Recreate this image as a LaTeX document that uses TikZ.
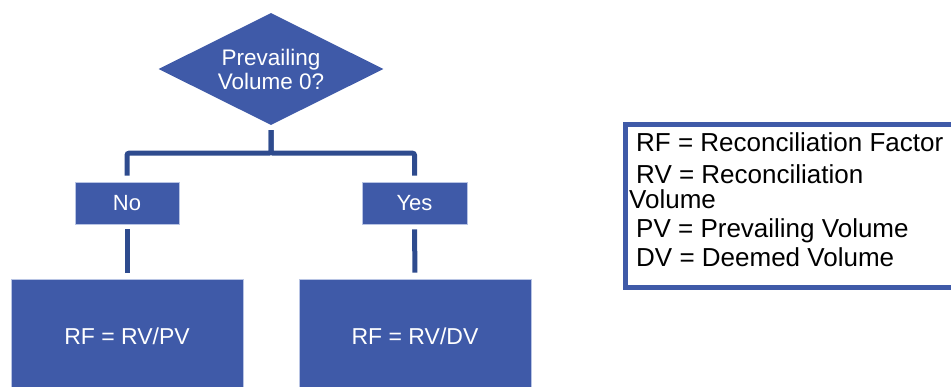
\documentclass[tikz,border=0pt]{standalone}
\usepackage{fontspec}
\setmainfont{Liberation Sans}
\usetikzlibrary{shapes.geometric}
\definecolor{boxblue}{HTML}{3F5AA8}
\definecolor{linkblue}{HTML}{2E4B8E}
\definecolor{edgeblue}{HTML}{B8C4E4}
\tikzset{
  flowbox/.style={draw=edgeblue, line width=0.8pt, fill=boxblue, text=white, inner sep=0pt, font=\fontsize{22}{26}\selectfont},
  decision/.style={diamond, fill=boxblue, text=white, inner sep=0pt, aspect=2, align=center, font=\fontsize{22.5}{24}\selectfont},
  conn/.style={draw=linkblue, line width=5pt, rounded corners=2pt, shorten <=5pt, shorten >=6pt},
  legendline/.style={anchor=base west, inner sep=0pt, font=\fontsize{26}{28}\selectfont},
}
\begin{document}
\begin{tikzpicture}[x=1pt,y=-1pt]
\useasboundingbox (0,0) rectangle (951,386);
\clip (0,0) rectangle (951,386);
\node[decision, minimum width=225pt, minimum height=112pt] (d) at (271,69) {Prevailing\\Volume 0?};
\node[flowbox, minimum width=104pt, minimum height=42pt] (no) at (127,203) {No};
\node[flowbox, minimum width=105pt, minimum height=42pt] (yes) at (414.5,203) {Yes};
\node[flowbox, minimum width=232pt, minimum height=114pt, font=\fontsize{23}{26}\selectfont] (r1) at (127,336) {RF = RV/PV};
\node[flowbox, minimum width=232pt, minimum height=114pt, font=\fontsize{23}{26}\selectfont] (r2) at (415,336) {RF = RV/DV};
\draw[conn] (d.south) -- ++(0,28) -| (no.north);
\draw[conn] (d.south) -- ++(0,28) -| (yes.north);
\draw[conn] (no.south) -- (r1.north);
\draw[conn] (yes.south) -- (r2.north);
\node[draw=boxblue, line width=5pt, fill=white, minimum width=340pt, minimum height=163pt, anchor=north west] (legend) at (623,122) {};
\node[legendline] (l1) at (636,151) {RF = Reconciliation Factor};
\node[legendline] (l2) at (636,183) {RV = Reconciliation};
\node[legendline] (l3) at (629,208) {Volume};
\node[legendline] (l4) at (636,237) {PV = Prevailing Volume};
\node[legendline] (l5) at (636,266) {DV = Deemed Volume};
\end{tikzpicture}
\end{document}
